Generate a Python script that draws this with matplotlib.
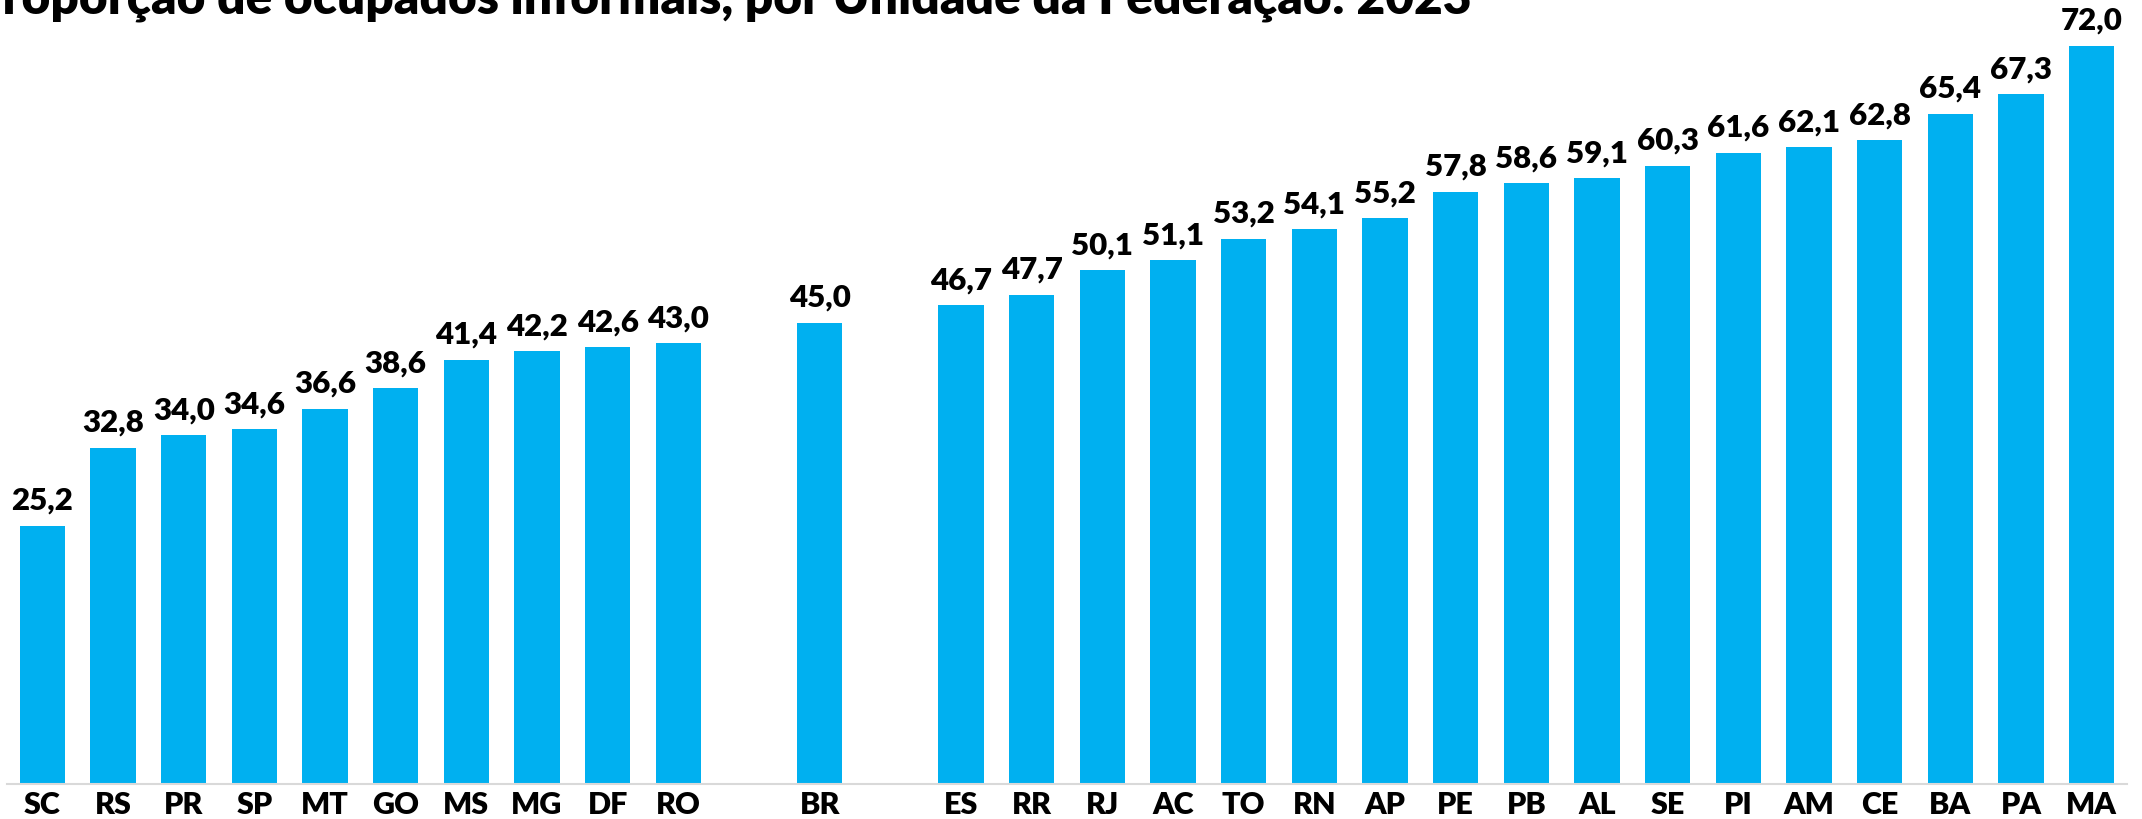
import matplotlib.pyplot as plt
import numpy as np

# dados: proporção de ocupados informais (%), 2023
left_ufs = ["SC", "RS", "PR", "SP", "MT", "GO", "MS", "MG", "DF", "RO"]
left_vals = [25.2, 32.8, 34.0, 34.6, 36.6, 38.6, 41.4, 42.2, 42.6, 43.0]
br_label = "BR"
br_val = 45.0
right_ufs = ["ES", "RR", "RJ", "AC", "TO", "RN", "AP", "PE", "PB", "AL",
             "SE", "PI", "AM", "CE", "BA", "PA", "MA"]
right_vals = [46.7, 47.7, 50.1, 51.1, 53.2, 54.1, 55.2, 57.8, 58.6, 59.1,
              60.3, 61.6, 62.1, 62.8, 65.4, 67.3, 72.0]

title = "Proporção de ocupados informais, por Unidade da Federação: 2023"

BLUE = "#00B0F0"
plt.rcParams['font.family'] = ['Lato', 'DejaVu Sans']


def fmt(v):
    return f"{v:.1f}".replace(".", ",")


def main():
    # posições: blocos separados por um espaço vazio antes e depois do BR
    labels = left_ufs + [br_label] + right_ufs
    values = left_vals + [br_val] + right_vals
    pos = (list(range(len(left_ufs)))
           + [len(left_ufs) + 1]
           + [len(left_ufs) + 3 + i for i in range(len(right_ufs))])
    n_slots = pos[-1] + 1

    fig = plt.figure(figsize=(21.42, 8.19), dpi=100)
    ax = fig.add_axes([0.0033, 35 / 819, 0.9897, 0.95])

    bars = ax.bar(pos, values, width=0.64, color=BLUE, zorder=2)
    for b, v in zip(bars, values):
        ax.annotate(fmt(v), (b.get_x() + b.get_width() / 2, v),
                    xytext=(0, 8), textcoords="offset points",
                    ha="center", va="bottom", fontsize=22.5, fontweight="heavy")

    ax.set_xlim(-0.5, n_slots - 0.5)
    ax.set_ylim(0, 784 / 10.25 * 0.95 * 819 / 784)
    ax.set_xticks(pos)
    ax.set_xticklabels(labels, fontsize=22, fontweight="heavy")
    ax.tick_params(axis="x", length=0, pad=5)
    ax.set_yticks([])
    for s in ["top", "right", "left"]:
        ax.spines[s].set_visible(False)
    ax.spines["bottom"].set_color("#D9D9D9")
    ax.spines["bottom"].set_linewidth(1.5)

    # título cortado no topo, como na imagem original
    fig.text(-0.0135, 1.0 - 14 / 819, title, fontsize=35.7, fontweight="heavy",
             ha="left", va="baseline")

    fig.savefig("out.png", dpi=100)


if __name__ == "__main__":
    main()
